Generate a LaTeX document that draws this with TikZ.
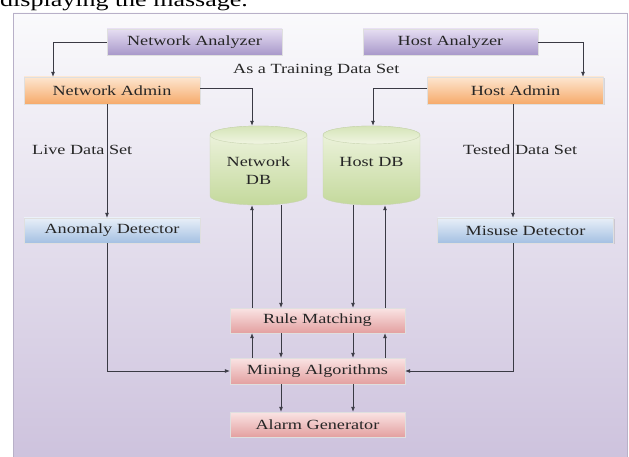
\documentclass[tikz,border=0pt]{standalone}
\usepackage{fontspec}
\setmainfont[FakeStretch=1.3]{Liberation Serif}
\usetikzlibrary{arrows.meta,shadows}
\definecolor{bgTop}{HTML}{FAFAFC}
\definecolor{bgBot}{HTML}{CDC2DD}
\definecolor{frameE}{HTML}{B8B0C8}
\definecolor{anT}{HTML}{E6DEF2}
\definecolor{anB}{HTML}{A898CA}
\definecolor{adT}{HTML}{FDE6D0}
\definecolor{adB}{HTML}{F6AA6A}
\definecolor{deT}{HTML}{E8EFF8}
\definecolor{deB}{HTML}{A4C0E2}
\definecolor{pkT}{HTML}{FAE4E4}
\definecolor{pkB}{HTML}{E3A0A0}
\definecolor{dbT}{HTML}{F0F5E2}
\definecolor{dbB}{HTML}{C4D99C}
\definecolor{dbE}{HTML}{C8D4B0}
\definecolor{lineC}{HTML}{3A3A44}
\newcommand\dbcyl[1]{%
  \shade[top color=dbT, bottom color=dbB, draw=dbE, line width=0.4pt]
    (#1-48.5,-135) -- (#1-48.5,-196)
    arc[start angle=180,end angle=360,x radius=48.5,y radius=9]
    -- (#1+48.5,-135)
    arc[start angle=0,end angle=180,x radius=48.5,y radius=9] -- cycle;
  \shade[top color=dbB!60!dbT, bottom color=dbT, draw=dbE, line width=0.4pt]
    (#1,-135) ellipse[x radius=48.5,y radius=9];
}
\begin{document}
\begin{tikzpicture}[x=1pt,y=1pt,
  box/.style={minimum width=175pt, minimum height=26pt, inner sep=0pt,
    font=\fontsize{14}{16}\selectfont, text=black!85,
    draw=white!75!gray, line width=0.3pt,
    drop shadow={shadow xshift=1.2pt, shadow yshift=-1.2pt, opacity=0.25}},
  anbox/.style={box, top color=anT, bottom color=anB},
  adbox/.style={box, top color=adT, bottom color=adB},
  debox/.style={box, top color=deT, bottom color=deB},
  pkbox/.style={box, top color=pkT, bottom color=pkB},
  lbl/.style={inner sep=0pt, font=\fontsize{14}{16}\selectfont, text=black!85},
  dbarea/.style={minimum width=97pt, minimum height=79pt, inner sep=0pt},
  dbtxt/.style={inner sep=0pt, align=center, font=\fontsize{14}{18}\selectfont, text=black!85},
  conn/.style={draw=lineC, line width=0.8pt, -{Latex[length=5pt,width=4pt]}}
]
\path[use as bounding box] (0,0) rectangle (629,-457);
% page text line (clipped at top)
\node[inner sep=0pt, anchor=base west, font=\fontsize{20}{22}\selectfont] (pagetxt) at (0,-6.5) {displaying the massage.};
% frame
\shade[top color=bgTop, bottom color=bgBot, draw=frameE, line width=0.6pt] (13,-13) rectangle (627,-462);
% cylinders
\dbcyl{258.5}
\dbcyl{371.5}
\node[dbarea] (ndb) at (258.5,-165.5) {};
\node[dbarea] (hdb) at (371.5,-165.5) {};
\node[dbtxt] (ndbt) at (258.5,-171) {Network\\DB};
\node[dbtxt] (hdbt) at (371.5,-162) {Host DB};
% boxes
\node[anbox] (na) at (194.5,-42) {Network Analyzer};
\node[anbox] (ha) at (450.5,-42) {Host Analyzer};
\node[adbox, minimum width=176pt, minimum height=27pt] (nad) at (112,-90.5) {Network Admin};
\node[adbox, minimum width=176pt, minimum height=27pt] (had) at (515.5,-90.5) {Host Admin};
\node[debox, minimum width=176pt, minimum height=25pt] (ad) at (112,-230.5) {Anomaly Detector};
\node[debox, minimum width=176pt, minimum height=25pt] (md) at (525.5,-230.5) {Misuse Detector};
\node[pkbox, minimum height=25pt] (rm) at (317.5,-320.5) {Rule Matching};
\node[pkbox] (ma) at (317.5,-371) {Mining Algorithms};
\node[pkbox, minimum height=25pt] (ag) at (317.5,-424.5) {Alarm Generator};
% labels
\node[lbl, anchor=west] (lds) at (32,-150) {Live Data Set};
\node[lbl, anchor=west] (tds) at (463,-150) {Tested Data Set};
\node[lbl, anchor=west] (atd) at (233,-70) {As a Training Data Set};
% connectors top
\draw[conn] (na.west) -| ([xshift=-59pt]nad.north);
\draw[conn] (ha.east) -| ([xshift=67.5pt]had.north);
\draw[conn] ([yshift=2.5pt]nad.east) -| ([xshift=-6.5pt]ndb.north);
\draw[conn] ([yshift=2.5pt]had.west) -| ([xshift=1.5pt]hdb.north);
\draw[conn] ([xshift=-5pt]nad.south) -- ([xshift=-5pt]ad.north);
\draw[conn] ([xshift=-2.5pt]had.south) -- ([xshift=-2.5pt]had.south |- md.north);
% DB <-> rule matching
\draw[conn] ([xshift=-65.5pt]rm.north) -- ([xshift=-65.5pt]rm.north |- ndb.south);
\draw[conn] ([xshift=22.5pt]ndb.south) -- ([xshift=22.5pt]ndb.south |- rm.north);
\draw[conn] ([xshift=-18.5pt]hdb.south) -- ([xshift=-18.5pt]hdb.south |- rm.north);
\draw[conn] ([xshift=67.5pt]rm.north) -- ([xshift=67.5pt]rm.north |- hdb.south);
% rule matching <-> mining
\draw[conn] ([xshift=-65.5pt]ma.north) -- ([xshift=-65.5pt]rm.south);
\draw[conn] ([xshift=-36.5pt]rm.south) -- ([xshift=-36.5pt]ma.north);
\draw[conn] ([xshift=35.5pt]rm.south) -- ([xshift=35.5pt]ma.north);
\draw[conn] ([xshift=67.5pt]ma.north) -- ([xshift=67.5pt]rm.south);
% mining -> alarm
\draw[conn] ([xshift=-36.5pt]ma.south) -- ([xshift=-36.5pt]ag.north);
\draw[conn] ([xshift=35.5pt]ma.south) -- ([xshift=35.5pt]ag.north);
% detectors -> mining
\draw[conn] ([xshift=-5pt]ad.south) |- (ma.west);
\draw[conn] ([xshift=-12.5pt]md.south) |- (ma.east);
\end{tikzpicture}
\end{document}
